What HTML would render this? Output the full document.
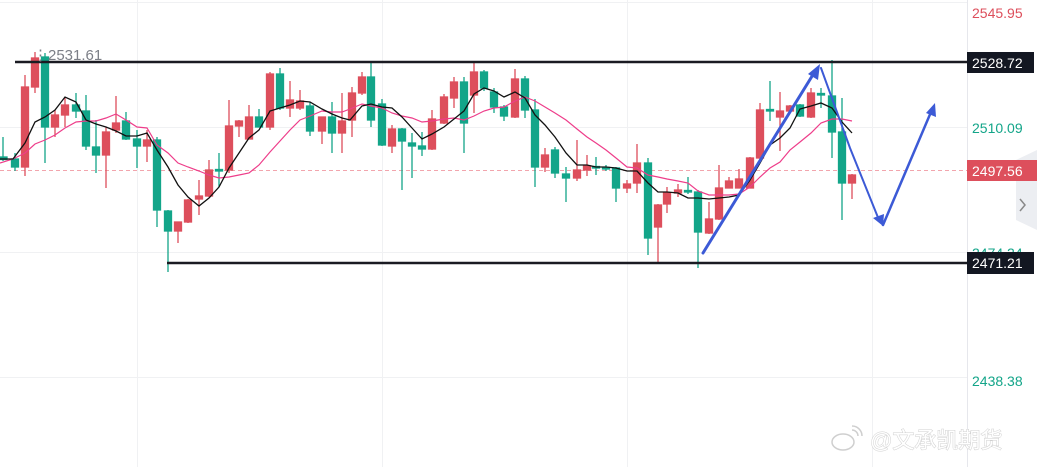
<!DOCTYPE html>
<html><head><meta charset="utf-8"><style>
html,body{margin:0;padding:0;background:#fff;}
svg{display:block;font-family:"Liberation Sans","Noto Sans CJK SC",sans-serif;}
</style></head><body>
<svg width="1037" height="467" viewBox="0 0 1037 467" xmlns="http://www.w3.org/2000/svg">
<rect width="1037" height="467" fill="#fff"/>
<g stroke="#f0f1f3" stroke-width="1">
<line x1="0" y1="2.5" x2="967" y2="2.5"/><line x1="0" y1="127.5" x2="967" y2="127.5"/>
<line x1="0" y1="252.5" x2="967" y2="252.5"/><line x1="0" y1="377.5" x2="967" y2="377.5"/>
<line x1="137.5" y1="0" x2="137.5" y2="467"/><line x1="382.5" y1="0" x2="382.5" y2="467"/>
<line x1="627.5" y1="0" x2="627.5" y2="467"/><line x1="872.5" y1="0" x2="872.5" y2="467"/>
</g>
<line x1="0" y1="170.5" x2="967" y2="170.5" stroke="#f2a5ad" stroke-width="1" stroke-dasharray="4,3"/>
<line x1="967.5" y1="0" x2="967.5" y2="467" stroke="#e6e7ec" stroke-width="1"/>
<g stroke-width="1.3">
<g stroke="#13a589" fill="#13a589">
<line x1="3" y1="137" x2="3" y2="161"/><rect x="0" y="157" width="7" height="2.5"/>
<line x1="15" y1="153" x2="15" y2="171"/><rect x="11.5" y="159" width="7" height="8"/>
<line x1="45" y1="53" x2="45" y2="163"/><rect x="41.5" y="57" width="7" height="70"/>
<line x1="76" y1="93" x2="76" y2="118"/><rect x="72.5" y="105" width="7" height="6"/>
<line x1="86" y1="95" x2="86" y2="150"/><rect x="82.5" y="111" width="7" height="35"/>
<line x1="96" y1="120" x2="96" y2="173"/><rect x="92.5" y="147" width="7" height="8"/>
<line x1="126" y1="112" x2="126" y2="140"/><rect x="122.5" y="121" width="7" height="18"/>
<line x1="137" y1="130" x2="137" y2="168"/><rect x="133.5" y="139" width="7" height="7"/>
<line x1="157" y1="137" x2="157" y2="227"/><rect x="153.5" y="140" width="7" height="70"/>
<line x1="168" y1="210" x2="168" y2="272"/><rect x="164.5" y="211" width="7" height="20"/>
<line x1="219" y1="153" x2="219" y2="187"/><rect x="215.5" y="169.5" width="7" height="1.5"/>
<line x1="259" y1="109" x2="259" y2="127"/><rect x="255.5" y="117" width="7" height="10"/>
<line x1="280" y1="68" x2="280" y2="110"/><rect x="276.5" y="74" width="7" height="34"/>
<line x1="310" y1="102" x2="310" y2="136"/><rect x="306.5" y="106" width="7" height="25"/>
<line x1="332" y1="102" x2="332" y2="153"/><rect x="328.5" y="117" width="7" height="16"/>
<line x1="371" y1="61" x2="371" y2="127"/><rect x="367.5" y="77" width="7" height="43"/>
<line x1="382" y1="99" x2="382" y2="146"/><rect x="378.5" y="104" width="7" height="41"/>
<line x1="402" y1="128" x2="402" y2="190"/><rect x="398.5" y="129" width="7" height="12"/>
<line x1="412" y1="133" x2="412" y2="178"/><rect x="408.5" y="143" width="7" height="3"/>
<line x1="422" y1="132" x2="422" y2="156"/><rect x="418.5" y="146" width="7" height="3"/>
<line x1="464" y1="77" x2="464" y2="153"/><rect x="460.5" y="82" width="7" height="41"/>
<line x1="484" y1="70" x2="484" y2="91"/><rect x="480.5" y="72" width="7" height="16"/>
<line x1="494" y1="88" x2="494" y2="113"/><rect x="490.5" y="92" width="7" height="15"/>
<line x1="504" y1="105" x2="504" y2="121"/><rect x="500.5" y="107" width="7" height="9"/>
<line x1="525" y1="76" x2="525" y2="118"/><rect x="521.5" y="79" width="7" height="31"/>
<line x1="535" y1="99" x2="535" y2="187"/><rect x="531.5" y="110" width="7" height="57"/>
<line x1="555" y1="147" x2="555" y2="178"/><rect x="551.5" y="150" width="7" height="23"/>
<line x1="566" y1="167" x2="566" y2="202"/><rect x="562.5" y="174" width="7" height="4"/>
<line x1="596" y1="157" x2="596" y2="175"/><rect x="592.5" y="166.5" width="7" height="1.5"/>
<line x1="606" y1="165" x2="606" y2="171"/><rect x="602.5" y="167.5" width="7" height="1.5"/>
<line x1="616" y1="167" x2="616" y2="202"/><rect x="612.5" y="168" width="7" height="20"/>
<line x1="648" y1="158" x2="648" y2="255"/><rect x="644.5" y="163" width="7" height="75"/>
<line x1="688" y1="177" x2="688" y2="194"/><rect x="684.5" y="190.5" width="7" height="1.5"/>
<line x1="698" y1="190" x2="698" y2="268"/><rect x="694.5" y="192" width="7" height="40"/>
<line x1="770" y1="81" x2="770" y2="121"/><rect x="766.5" y="109.5" width="7" height="1.5"/>
<line x1="800" y1="104" x2="800" y2="117"/><rect x="796.5" y="105" width="7" height="11"/>
<line x1="821" y1="88" x2="821" y2="108"/><rect x="817.5" y="93.5" width="7" height="1.5"/>
<line x1="832" y1="60" x2="832" y2="158"/><rect x="828.5" y="96" width="7" height="36"/>
<line x1="842" y1="98" x2="842" y2="220"/><rect x="838.5" y="132" width="7" height="51"/>
</g>
<g stroke="#dd4f5c" fill="#dd4f5c">
<line x1="25" y1="75" x2="25" y2="176"/><rect x="21.5" y="87" width="7" height="80"/>
<line x1="35" y1="52" x2="35" y2="93"/><rect x="31.5" y="58" width="7" height="29"/>
<line x1="55" y1="110" x2="55" y2="137"/><rect x="51.5" y="115" width="7" height="12"/>
<line x1="65" y1="98" x2="65" y2="127"/><rect x="61.5" y="105" width="7" height="10"/>
<line x1="106" y1="127" x2="106" y2="188"/><rect x="102.5" y="132" width="7" height="23"/>
<line x1="116" y1="96" x2="116" y2="133"/><rect x="112.5" y="123" width="7" height="7"/>
<line x1="147" y1="130" x2="147" y2="162"/><rect x="143.5" y="140" width="7" height="6"/>
<line x1="178" y1="222" x2="178" y2="243"/><rect x="174.5" y="222" width="7" height="9"/>
<line x1="188" y1="199" x2="188" y2="223"/><rect x="184.5" y="200" width="7" height="22"/>
<line x1="199" y1="180" x2="199" y2="215"/><rect x="195.5" y="196" width="7" height="3"/>
<line x1="209" y1="160" x2="209" y2="197"/><rect x="205.5" y="170" width="7" height="26"/>
<line x1="229" y1="100" x2="229" y2="173"/><rect x="225.5" y="126" width="7" height="44"/>
<line x1="239" y1="120" x2="239" y2="137"/><rect x="235.5" y="121" width="7" height="5"/>
<line x1="249" y1="105" x2="249" y2="139"/><rect x="245.5" y="117" width="7" height="22"/>
<line x1="270" y1="72" x2="270" y2="130"/><rect x="266.5" y="74" width="7" height="53"/>
<line x1="290" y1="81" x2="290" y2="117"/><rect x="286.5" y="100" width="7" height="8"/>
<line x1="300" y1="90" x2="300" y2="110"/><rect x="296.5" y="101" width="7" height="7"/>
<line x1="322" y1="117" x2="322" y2="144"/><rect x="318.5" y="117" width="7" height="14"/>
<line x1="342" y1="93" x2="342" y2="153"/><rect x="338.5" y="121" width="7" height="12"/>
<line x1="352" y1="87" x2="352" y2="137"/><rect x="348.5" y="93" width="7" height="27"/>
<line x1="362" y1="72" x2="362" y2="95"/><rect x="358.5" y="77" width="7" height="16"/>
<line x1="392" y1="125" x2="392" y2="153"/><rect x="388.5" y="129" width="7" height="17"/>
<line x1="432" y1="110" x2="432" y2="150"/><rect x="428.5" y="119" width="7" height="30"/>
<line x1="444" y1="94" x2="444" y2="124"/><rect x="440.5" y="97" width="7" height="26"/>
<line x1="454" y1="77" x2="454" y2="108"/><rect x="450.5" y="82" width="7" height="16"/>
<line x1="474" y1="63" x2="474" y2="113"/><rect x="470.5" y="72" width="7" height="23"/>
<line x1="515" y1="69" x2="515" y2="118"/><rect x="511.5" y="79" width="7" height="38"/>
<line x1="545" y1="148" x2="545" y2="172"/><rect x="541.5" y="155" width="7" height="12"/>
<line x1="577" y1="140" x2="577" y2="181"/><rect x="573.5" y="170" width="7" height="8"/>
<line x1="587" y1="155" x2="587" y2="176"/><rect x="583.5" y="166" width="7" height="4"/>
<line x1="627" y1="180" x2="627" y2="193"/><rect x="623.5" y="184" width="7" height="4"/>
<line x1="637" y1="144" x2="637" y2="193"/><rect x="633.5" y="163" width="7" height="20"/>
<line x1="658" y1="204" x2="658" y2="262"/><rect x="654.5" y="205" width="7" height="22"/>
<line x1="667" y1="187" x2="667" y2="213"/><rect x="663.5" y="193" width="7" height="11"/>
<line x1="678" y1="184" x2="678" y2="197"/><rect x="674.5" y="190" width="7" height="3"/>
<line x1="709" y1="202" x2="709" y2="234"/><rect x="705.5" y="219" width="7" height="14"/>
<line x1="719" y1="165" x2="719" y2="220"/><rect x="715.5" y="188" width="7" height="31"/>
<line x1="729" y1="177" x2="729" y2="188"/><rect x="725.5" y="181" width="7" height="7"/>
<line x1="739" y1="169" x2="739" y2="188"/><rect x="735.5" y="179" width="7" height="9"/>
<line x1="750" y1="157" x2="750" y2="188"/><rect x="746.5" y="158" width="7" height="30"/>
<line x1="760" y1="103" x2="760" y2="159"/><rect x="756.5" y="110" width="7" height="48"/>
<line x1="780" y1="92" x2="780" y2="151"/><rect x="776.5" y="111" width="7" height="6"/>
<line x1="790" y1="105" x2="790" y2="112"/><rect x="786.5" y="106" width="7" height="5"/>
<line x1="811" y1="88" x2="811" y2="118"/><rect x="807.5" y="93" width="7" height="24"/>
<line x1="852" y1="174" x2="852" y2="199"/><rect x="848.5" y="175" width="7" height="8"/>
</g>
</g>
<polyline fill="none" stroke="#ee3d8a" stroke-width="1.2" points="0,163 13,159 25,153 35,144 45,140 55,135 65,128 76,122 86,121 96,121 106,118 116,114 126,120 137,127 147,128 157,145 168,153 178,163 188,167 199,171 209,175 219,178 229,177 239,175 249,173 259,165 270,152 280,141 290,130 300,120 310,116 322,111 332,112 342,112 350,109 362,104 371,106 382,108 392,113 402,116 412,118 422,122 432,121 444,119 454,118 464,120 474,116 484,111 494,108 504,107 515,101 525,97 535,101 545,107 555,113 566,120 577,129 587,137 596,143 606,150 616,158 627,167 637,168 648,175 658,177 667,179 678,181 688,183 698,191 709,195 719,195 729,195 739,194 750,187 760,177 770,168 780,162 790,150 800,142 811,133 821,123 832,119 842,119 852,121"/>
<polyline fill="none" stroke="#111" stroke-width="1.3" points="0,159 13,159 25,143 35,122 45,117 55,110 65,97 76,102 86,120 96,124 106,127 116,131 126,136 137,136 147,133 157,150 168,167 178,185 188,197 199,206 209,198 219,187 229,168 239,153 249,138 259,130 270,111 280,108 290,105 300,101 310,102 322,109 332,114 342,118 350,120 362,106 371,104 382,107 392,108 402,117 412,128 422,139 432,134 444,127 454,119 464,111 474,94 484,88 494,91 504,97 515,92 525,98 535,115 545,125 555,137 566,153 577,165 587,165 596,167 606,167 616,168 627,171 637,171 648,183 658,192 667,192 678,193 688,198 698,198 709,199 719,198 729,197 739,195 750,180 760,163 770,145 780,138 790,128 800,109 811,106 821,103 832,108 842,122 852,133"/>
<line x1="15" y1="62" x2="967" y2="62" stroke="#1a1b22" stroke-width="2.5"/>
<line x1="167" y1="263" x2="967" y2="263" stroke="#1a1b22" stroke-width="2.5"/>
<g stroke="#3c5ad6" fill="#3c5ad6" stroke-linecap="round">
<line x1="703" y1="253" x2="814" y2="73" stroke-width="3"/>
<polygon points="820,64 818,80 808,74" stroke="none"/>
<polyline points="821,68 850,148 879,220" fill="none" stroke-width="2"/>
<polygon points="883,226 873,218 884,214" stroke="none"/>
<line x1="883" y1="225" x2="931" y2="112" stroke-width="2.5"/>
<polygon points="935,103 936,117 926,113" stroke="none"/>
</g>
<text x="33" y="60" font-size="15" fill="#7c7f87">⋮2531.61</text>
<polygon points="1016,160 1037,150 1037,230 1016,220" fill="#eceef2"/>
<polyline points="1020,199 1025,205 1020,211" fill="none" stroke="#888" stroke-width="1.5"/>
<g font-size="14">
<text x="972" y="18" fill="#dd4f5c">2545.95</text>
<rect x="967" y="52" width="67" height="21" fill="#131722"/>
<text x="972" y="68" fill="#fff">2528.72</text>
<text x="972" y="133" fill="#13a589">2510.09</text>
<text x="972" y="258" fill="#13a589">2474.24</text>
<rect x="967" y="160" width="70" height="21" fill="#dd4f5c"/>
<text x="972" y="176" fill="#fff">2497.56</text>
<rect x="967" y="252" width="67" height="22" fill="#131722"/>
<text x="972" y="268" fill="#fff">2471.21</text>
<text x="972" y="386" fill="#13a589">2438.38</text>
</g>
<text x="870" y="448" font-size="22" fill="#fff" stroke="#cfcfcf" stroke-width="1" paint-order="stroke">@文承凯期货</text>
<ellipse cx="843" cy="442" rx="11" ry="8" fill="#fff" stroke="#cfcfcf" stroke-width="1.5"/>
<path d="M852,430 a6,6 0 0 1 6,6 M852,426 a10,10 0 0 1 10,10" fill="none" stroke="#cfcfcf" stroke-width="1.5"/>
</svg>
</body></html>
